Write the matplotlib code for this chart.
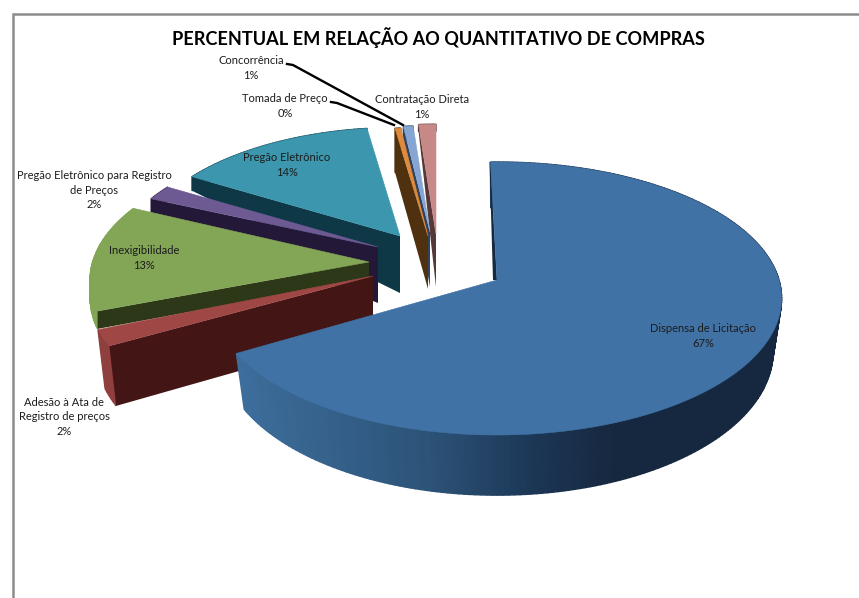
import matplotlib
matplotlib.use('Agg')
import matplotlib.pyplot as plt
import numpy as np
from matplotlib.colors import LinearSegmentedColormap
from matplotlib.patches import Polygon

title = 'PERCENTUAL EM RELAÇÃO AO QUANTITATIVO DE COMPRAS'

# Clockwise from twelve o'clock
labels = ['Dispensa de Licitação', 'Adesão à Ata de\nRegistro de preços', 'Inexigibilidade',
          'Pregão Eletrônico para Registro\nde Preços', 'Pregão Eletrônico', 'Tomada de Preço',
          'Concorrência', 'Contratação Direta']
values = [66.9, 1.9, 12.9, 1.9, 14.1, 0.4, 0.7, 1.2]

top_colors = ['#4172a5', '#9e4745', '#83a556', '#6d5a93', '#3b96ae', '#e08b3c', '#86a5d2', '#c78987']
cut_colors = ['#15293f', '#431515', '#2d3818', '#241838', '#0e3845', '#4f300f', '#2f4260', '#553838']
rim_colors = ['#2c5378', '#8f3f3d', '#83a556', '#241838', '#0e3845', '#4f300f', '#2f4260', '#553838']

# Exploded position and look of each slice, in pixels of the figure
tip_x = [497, 373, 369, 378, 400, 428, 430, 436]
tip_y = [280, 276, 262, 247, 236, 236, 232, 234]
radius = [1.0, 1.0, 0.98, 0.93, 0.92, 0.92, 0.9, 0.93]
rim_depth = [52, 56, 17, 15, 15, 50, 15, 8]
tip_depth = [50, 57, 17, 56, 57, 53, 55, 53]
bottom_scale = [0.97, 0.974, 1.0, 1.0, 1.0, 1.0, 1.0, 1.0]
angle_shift = [-1.5, 0, 1.5, 0, 0, 0, 0, 0]
draw_order = [7, 6, 5, 4, 3, 2, 1, 0]

label_x = [703, 64, 144, 94, 287, 285, 251, 422]
label_y = [336, 417, 258, 190, 165, 106, 68, 107]

# Perspective of the pie: horizontal and vertical radius, foreshortening
RX = 282
RY = 134
K = 0.1355

side_cmap = LinearSegmentedColormap.from_list(
    'side', [(0, '#3d6d9b'), (0.35, '#2c5378'), (0.55, '#1c3655'), (0.7, '#16283f'), (1, '#16283f')])


def project(i, angle, r=1.0):
    # angle in degrees clockwise from the top, r relative to the slice radius
    s = np.sin(np.radians(angle))
    c = np.cos(np.radians(angle))
    x = tip_x[i] + radius[i] * r * RX * s / (1 + K * c)
    y = tip_y[i] - radius[i] * r * RY * c / (1 + K * c)
    return x, y


def lower(i, x, y, angle, r=1.0):
    # Same point on the lower face of the slice
    c = np.cos(np.radians(angle))
    depth = tip_depth[i] + (rim_depth[i] / (1 + K * c) - tip_depth[i]) * r
    return tip_x[i] + (x - tip_x[i]) * bottom_scale[i], y + depth


def draw_slice(ax, i, a0, a1):
    angles = np.linspace(a0, a1, max(int(a1 - a0), 6))
    x, y = project(i, angles)
    xb, yb = lower(i, x, y, angles)

    # Outer wall
    for j in range(len(angles) - 1):
        color = rim_colors[i]
        if i == 0:
            color = side_cmap((x[j] - 240) / 541)
        ax.add_patch(Polygon([(x[j], y[j]), (x[j + 1], y[j + 1]), (xb[j + 1], yb[j + 1]), (xb[j], yb[j])],
                             facecolor=color, edgecolor=color, lw=1.0))

    # Cut face along the slice edge that looks at the viewer
    if i == 0:
        sx, sy = project(i, a0)
        ax.add_patch(Polygon([(sx, sy), (sx - 1, sy), (tip_x[i] - 4, tip_y[i]), (tip_x[i], tip_y[i])],
                             facecolor=cut_colors[i], edgecolor='none'))
    else:
        ex, ey = project(i, a0)
        ebx, eby = lower(i, ex, ey, a0)
        tbx, tby = lower(i, tip_x[i], tip_y[i], a0, 0.0)
        ax.add_patch(Polygon([(tip_x[i], tip_y[i]), (ex, ey), (ebx, eby), (tbx, tby)],
                             facecolor=cut_colors[i], edgecolor='none'))

    # Upper face
    top = np.column_stack((np.append(x, tip_x[i]), np.append(y, tip_y[i])))
    ax.add_patch(Polygon(top, facecolor=top_colors[i], edgecolor=top_colors[i], lw=0.4))


def main():
    fig = plt.figure(figsize=(8.59, 5.98), dpi=100)
    ax = fig.add_axes([0, 0, 1, 1])
    ax.set_xlim(0, 859)
    ax.set_ylim(598, 0)
    ax.axis('off')

    # Chart frame, cut at the right and bottom of the picture
    ax.plot([13, 13, 859], [598, 14, 14], color='#8c8c8c', lw=1.8, solid_joinstyle='miter')

    edges = 360 * np.cumsum([0] + values) / np.sum(values)
    for i in draw_order:
        draw_slice(ax, i, edges[i] + angle_shift[i], edges[i + 1] + angle_shift[i])

    # Leader lines
    ax.plot([287, 293, 403], [64, 65, 125], color='k', lw=1.7)
    ax.plot([331, 337, 394], [102, 103, 125], color='k', lw=1.7)

    for name, v, x, y in zip(labels, values, label_x, label_y):
        ax.text(x, y, '{}\n{:.0f}%'.format(name, v), ha='center', va='center', fontsize=8,
                family='Lato', color='#1c1c1c', linespacing=1.4)
    ax.text(438, 38, title, ha='center', va='center', fontsize=13.1, fontweight='bold',
            family='Lato', color='k')

    fig.savefig('out.png', dpi=100)


if __name__ == '__main__':
    main()
